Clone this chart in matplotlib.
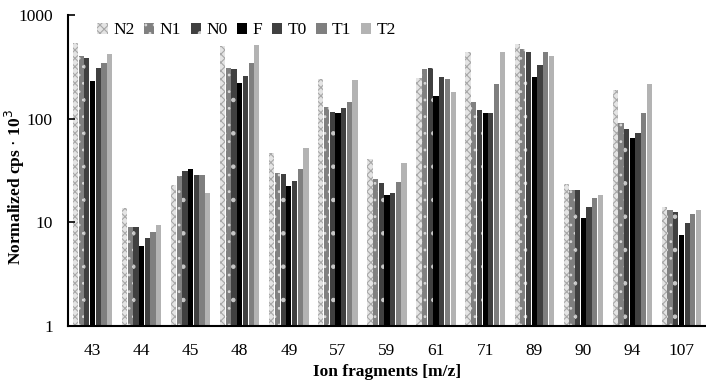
import numpy as np
import matplotlib
matplotlib.use('Agg')
import matplotlib.pyplot as plt
from matplotlib.ticker import FixedLocator, NullLocator

plt.rcParams['font.family'] = ['Liberation Serif', 'DejaVu Serif']
plt.rcParams['hatch.linewidth'] = 0.8

fragments = ['43', '44', '45', '48', '49', '57', '59', '61', '71', '89', '90', '94', '107']
series = ['N2', 'N1', 'N0', 'F', 'T0', 'T1', 'T2']

N2 = [540, 13.6, 22.7, 500, 47, 240, 41, 246, 440, 525, 23.2, 188, 13.9]
N1 = [400, 9.1, 27.7, 305, 30, 129, 26, 300, 143, 470, 20.3, 90, 13.0]
N0 = [385, 9.1, 31, 298, 29, 115, 23.7, 307, 122, 440, 20.3, 79, 12.7]
F  = [230, 5.95, 33, 220, 22.6, 113, 18.5, 165, 112, 251, 10.9, 64.6, 7.6]
T0 = [305, 7.1, 28.3, 257, 24.8, 126, 19, 251, 112, 329, 14.2, 72, 9.9]
T1 = [344, 8.1, 28.3, 344, 32.4, 144, 24.2, 240, 217, 440, 17.3, 113, 12.1]
T2 = [420, 9.5, 19, 515, 51.7, 235, 37, 180, 441, 402, 18.5, 215, 13.0]
values = [N2, N1, N0, F, T0, T1, T2]

# face colour, hatch, hatch colour
styles = [
    ('#e4e4e4', 'xxxx', '#a8a8a8'),
    ('#808080', '..', '#d8d8d8'),
    ('#404040', '.', '#c8c8c8'),
    ('#000000', None, '#000000'),
    ('#404040', None, '#404040'),
    ('#7f7f7f', None, '#7f7f7f'),
    ('#b3b3b3', None, '#b3b3b3'),
]

fig = plt.figure(figsize=(7.06, 3.82), dpi=100)
ax = fig.add_axes([0.0963, 0.1466, 0.9037, 0.8144])

x = np.arange(len(fragments))
w = 0.116
for i, (name, vals, (fc, hat, hc)) in enumerate(zip(series, values, styles)):
    ax.bar(x + (i - 3) * w, vals, w * 0.92, bottom=0, color=fc, hatch=hat,
           edgecolor=hc, linewidth=0, label=name)

ax.set_yscale('log')
ax.set_ylim(1, 1000)
ax.set_xlim(-0.5, len(fragments) - 0.5)
ax.yaxis.set_major_locator(FixedLocator([1, 10, 100, 1000]))
ax.yaxis.set_minor_locator(NullLocator())
ax.set_yticklabels(['1', '10', '100', '1000'])
ax.tick_params(axis='y', direction='in', length=5, width=1.2, pad=11, labelsize=12.5)
ax.tick_params(axis='x', length=0, pad=12.5, labelsize=12.5)
ax.set_xticks(x)
ax.set_xticklabels(fragments)
for s in ('top', 'right'):
    ax.spines[s].set_visible(False)
for s in ('left', 'bottom'):
    ax.spines[s].set_linewidth(1.5)

ax.set_ylabel('Normalized cps $\\cdot$ 10$^3$', fontsize=12.5, fontweight='bold')
ax.yaxis.set_label_coords(-0.064, 0.447)
ax.set_xlabel('Ion fragments [m/z]', fontsize=12.5, fontweight='bold', labelpad=3.5)

ax.legend(loc='center', bbox_to_anchor=(0.28, 0.95), ncol=7, frameon=False,
          fontsize=12.5, handlelength=0.6, handleheight=0.6, handletextpad=0.3,
          columnspacing=0.55, borderaxespad=0)

fig.savefig('out.png', dpi=100)
